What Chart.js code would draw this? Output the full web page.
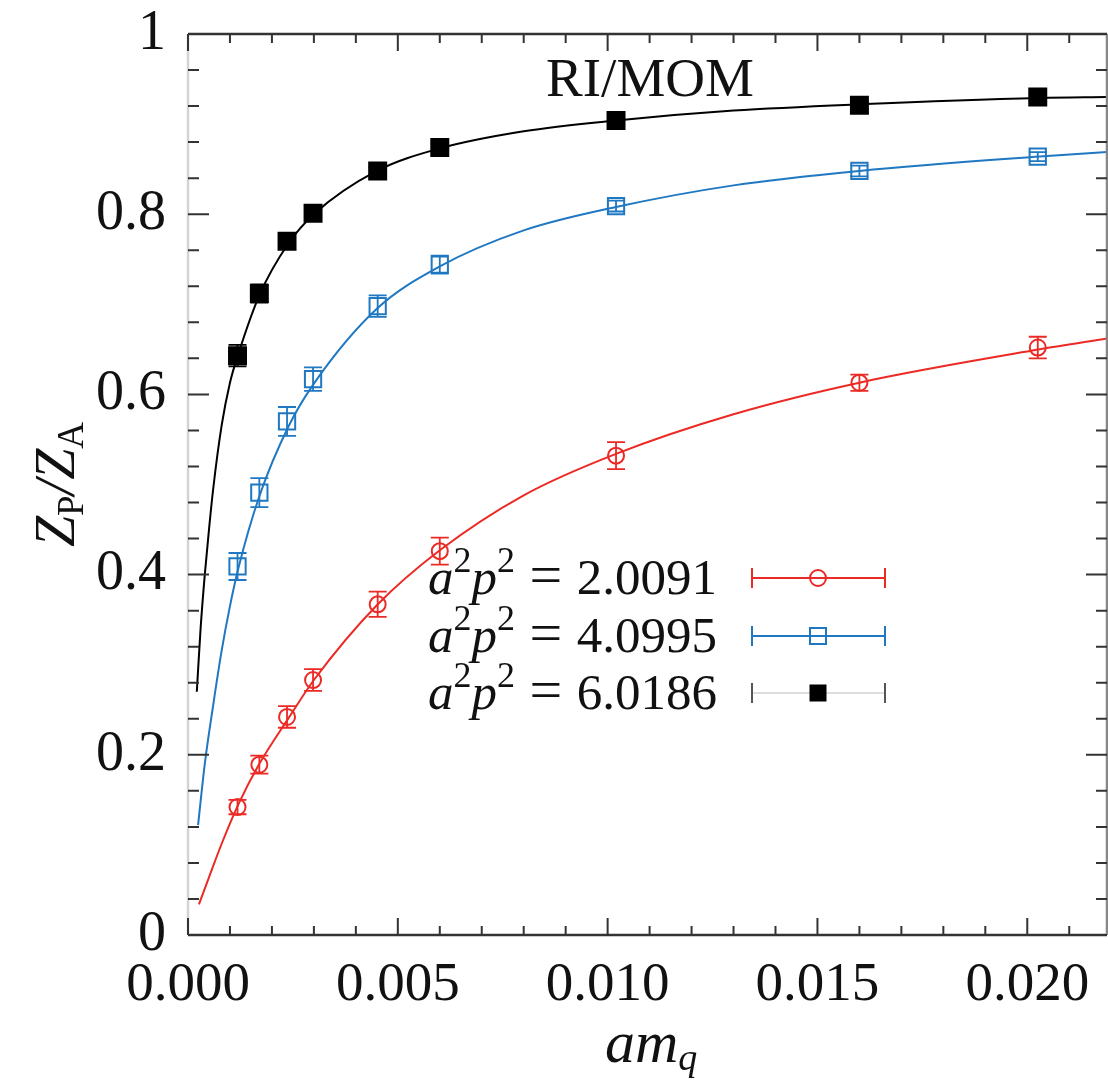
<!DOCTYPE html>
<html>
<head>
<meta charset="utf-8">
<script src="https://cdn.jsdelivr.net/npm/chart.js@4.4.1/dist/chart.umd.min.js"></script>
<style>
  html, body { margin: 0; padding: 0; background: #fff; overflow: hidden; }
  #wrap { width: 1108px; height: 1080px; }
  canvas { display: block; }
</style>
</head>
<body>
<div id="wrap"><canvas id="c" width="1108" height="1080"></canvas></div>
<script>
// ---- data ----
const amq = [0.00118, 0.0017, 0.00236, 0.00298, 0.00452, 0.006, 0.0102, 0.016, 0.02025];

const red = [0.142, 0.189, 0.242, 0.283, 0.367, 0.426, 0.532, 0.613, 0.652];
const redErr = [0.008, 0.010, 0.012, 0.012, 0.014, 0.015, 0.015, 0.009, 0.012];
const blue = [0.409, 0.491, 0.570, 0.617, 0.698, 0.744, 0.809, 0.848, 0.864];
const blueErr = [0.015, 0.016, 0.016, 0.013, 0.012, 0.010, 0.006, 0.006, 0.005];
const black = [0.643, 0.712, 0.770, 0.801, 0.848, 0.874, 0.904, 0.921, 0.930];
const blackErr = [0.012, 0.010, 0.008, 0.006, 0.004, 0.004, 0.004, 0.004, 0.004];

const redFitX = [0.00026, 0.0005, 0.0008, 0.0012, 0.0017, 0.0024, 0.003, 0.0045, 0.006, 0.008, 0.0102, 0.013, 0.016, 0.0203, 0.0219];
const redFitY = [0.034, 0.064, 0.101, 0.145, 0.190, 0.241, 0.283, 0.366, 0.427, 0.488, 0.534, 0.578, 0.613, 0.650, 0.662];
const blueFitX = [0.00024, 0.0004, 0.0006, 0.0008, 0.001, 0.0012, 0.0017, 0.0024, 0.003, 0.0045, 0.006, 0.008, 0.0102, 0.013, 0.016, 0.0203, 0.0219];
const blueFitY = [0.122, 0.190, 0.255, 0.315, 0.365, 0.407, 0.487, 0.565, 0.612, 0.695, 0.742, 0.782, 0.808, 0.832, 0.848, 0.864, 0.869];
const blackFitX = [0.00021, 0.0003, 0.0004, 0.0005, 0.0006, 0.0008, 0.001, 0.0012, 0.0017, 0.0024, 0.003, 0.0045, 0.006, 0.008, 0.0102, 0.013, 0.016, 0.0203, 0.0219];
const blackFitY = [0.270, 0.340, 0.400, 0.450, 0.495, 0.565, 0.613, 0.645, 0.710, 0.768, 0.800, 0.848, 0.873, 0.892, 0.904, 0.915, 0.922, 0.929, 0.930];

const xTicks = [0, 0.005, 0.010, 0.015, 0.020];
const xTickLabels = ['0.000', '0.005', '0.010', '0.015', '0.020'];
const yTicks = [0, 0.2, 0.4, 0.6, 0.8, 1];
const yTickLabels = ['0', '0.2', '0.4', '0.6', '0.8', '1'];

const legendValues = ['2.0091', '4.0995', '6.0186'];
const seriesColors = ['#ec2a25', '#1f78c1', '#000000'];
const plotTitle = 'RI/MOM';

// ---- helpers ----
const pts = (xs, ys) => xs.map((x, i) => ({ x: x, y: ys[i] }));
const SERIF = '"Liberation Serif", "DejaVu Serif", serif';

const errorBars = [
  { ys: red, errs: redErr, color: seriesColors[0] },
  { ys: blue, errs: blueErr, color: seriesColors[1] },
  { ys: black, errs: blackErr, color: seriesColors[2] }
];

const framePlugin = {
  id: 'frame',
  afterDatasetsDraw(chart) {
    const ctx = chart.ctx, xs = chart.scales.x, ys = chart.scales.y;
    ctx.save();
    errorBars.forEach(s => {
      ctx.strokeStyle = s.color;
      ctx.lineWidth = 1.8;
      s.ys.forEach((v, i) => {
        const px = xs.getPixelForValue(amq[i]);
        const top = ys.getPixelForValue(v + s.errs[i]);
        const bot = ys.getPixelForValue(v - s.errs[i]);
        ctx.beginPath();
        ctx.moveTo(px, top); ctx.lineTo(px, bot);
        ctx.moveTo(px - 9, top); ctx.lineTo(px + 9, top);
        ctx.moveTo(px - 9, bot); ctx.lineTo(px + 9, bot);
        ctx.stroke();
      });
    });
    ctx.restore();
  },
  afterDraw(chart) {
    const ctx = chart.ctx, a = chart.chartArea, xs = chart.scales.x, ys = chart.scales.y;
    ctx.save();
    // frame
    ctx.lineWidth = 2.5;
    ctx.strokeStyle = '#333';
    ctx.beginPath(); ctx.moveTo(a.left, a.top); ctx.lineTo(a.right, a.top); ctx.stroke();
    ctx.beginPath(); ctx.moveTo(a.left, a.bottom); ctx.lineTo(a.right, a.bottom); ctx.stroke();
    ctx.strokeStyle = '#888';
    ctx.beginPath(); ctx.moveTo(a.right, a.top); ctx.lineTo(a.right, a.bottom); ctx.stroke();
    ctx.strokeStyle = '#d4d4d4';
    ctx.beginPath(); ctx.moveTo(a.left, a.top); ctx.lineTo(a.left, a.bottom); ctx.stroke();

    // inward ticks
    ctx.strokeStyle = '#333';
    ctx.lineWidth = 2;
    for (let k = 0; k <= 21; k++) {
      const v = k * 0.001;
      const px = xs.getPixelForValue(v);
      const len = (k % 5 === 0) ? 17 : 9;
      ctx.beginPath();
      ctx.moveTo(px, a.bottom); ctx.lineTo(px, a.bottom - len);
      ctx.moveTo(px, a.top); ctx.lineTo(px, a.top + len);
      ctx.stroke();
    }
    for (let k = 0; k <= 25; k++) {
      const v = k * 0.04;
      const py = ys.getPixelForValue(v);
      const len = (k % 5 === 0) ? 21 : 11;
      ctx.beginPath();
      ctx.moveTo(a.left, py); ctx.lineTo(a.left + len, py);
      ctx.moveTo(a.right, py); ctx.lineTo(a.right - len, py);
      ctx.stroke();
    }

    ctx.fillStyle = '#111';
    ctx.textBaseline = 'alphabetic';

    // title inside plot
    ctx.font = '55px ' + SERIF;
    ctx.textAlign = 'center';
    ctx.fillText(plotTitle, 650, 96);

    // x axis title: am_q
    ctx.textAlign = 'left';
    ctx.font = 'italic 60px ' + SERIF;
    const amW = ctx.measureText('am').width;
    const x0 = 605;
    ctx.fillText('am', x0, 1062);
    ctx.font = 'italic 38px ' + SERIF;
    ctx.fillText('q', x0 + amW, 1070);

    // y axis title: Z_P / Z_A (rotated)
    ctx.save();
    ctx.translate(74, (a.top + a.bottom) / 2);
    ctx.rotate(-Math.PI / 2);
    const parts = [
      { t: 'Z', f: 'italic 56px ' + SERIF, dy: 0 },
      { t: 'P', f: '37px ' + SERIF, dy: 9 },
      { t: '/', f: 'italic 56px ' + SERIF, dy: 0 },
      { t: 'Z', f: 'italic 56px ' + SERIF, dy: 0 },
      { t: 'A', f: '37px ' + SERIF, dy: 9 }
    ];
    let tw = 0;
    parts.forEach(p => { ctx.font = p.f; p.w = ctx.measureText(p.t).width; tw += p.w; });
    let px = -tw / 2;
    parts.forEach(p => { ctx.font = p.f; ctx.fillText(p.t, px, p.dy); px += p.w; });
    ctx.restore();

    // legend
    const rowY = [578, 636, 693];
    legendValues.forEach((val, i) => {
      const y = rowY[i];
      const segs = [
        { t: 'a', f: 'italic 51px ' + SERIF, dy: 0 },
        { t: '2', f: '36px ' + SERIF, dy: -22 },
        { t: 'p', f: 'italic 51px ' + SERIF, dy: 0 },
        { t: '2', f: '36px ' + SERIF, dy: -22 },
        { t: ' = ', f: '58px ' + SERIF, dy: 0 },
        { t: val, f: '51px ' + SERIF, dy: 0 }
      ];
      let w = 0;
      segs.forEach(s => { ctx.font = s.f; s.w = ctx.measureText(s.t).width; w += s.w; });
      let lx = 717 - w;
      ctx.fillStyle = '#111';
      segs.forEach(s => { ctx.font = s.f; ctx.fillText(s.t, lx, y + 16 + s.dy); lx += s.w; });

      // symbol
      const c = seriesColors[i];
      ctx.lineWidth = i === 2 ? 1.2 : 2;
      ctx.strokeStyle = i === 2 ? '#bbb' : c;
      ctx.beginPath(); ctx.moveTo(752, y); ctx.lineTo(885, y); ctx.stroke();
      ctx.strokeStyle = i === 2 ? '#555' : c;
      ctx.lineWidth = 2;
      ctx.beginPath();
      ctx.moveTo(752, y - 10); ctx.lineTo(752, y + 10);
      ctx.moveTo(885, y - 10); ctx.lineTo(885, y + 10);
      ctx.stroke();
      const mx = 818;
      if (i === 0) {
        ctx.beginPath(); ctx.arc(mx, y, 8, 0, Math.PI * 2); ctx.stroke();
      } else if (i === 1) {
        ctx.strokeRect(mx - 8, y - 8, 16, 16);
      } else {
        ctx.fillStyle = '#000';
        ctx.fillRect(mx - 8.5, y - 8.5, 17, 17);
      }
    });
    ctx.restore();
  }
};

const fitDs = (xsArr, ysArr, color) => ({
  type: 'line',
  data: pts(xsArr, ysArr),
  borderColor: color,
  borderWidth: 2,
  pointRadius: 0,
  fill: false,
  cubicInterpolationMode: 'monotone',
  order: 2
});
const dataDs = (ys, color, style, r, filled) => ({
  type: 'line',
  data: pts(amq, ys),
  showLine: false,
  borderColor: color,
  pointBorderColor: color,
  pointBackgroundColor: filled ? color : 'rgba(0,0,0,0)',
  pointStyle: style,
  pointRadius: r,
  pointBorderWidth: 2,
  order: 1
});

const zeroPad = s => { s.paddingLeft = 0; s.paddingRight = 0; s.paddingTop = 0; s.paddingBottom = 0; };

new Chart(document.getElementById('c'), {
  type: 'line',
  data: {
    datasets: [
      fitDs(redFitX, redFitY, seriesColors[0]),
      fitDs(blueFitX, blueFitY, seriesColors[1]),
      fitDs(blackFitX, blackFitY, seriesColors[2]),
      dataDs(red, seriesColors[0], 'circle', 8, false),
      dataDs(blue, seriesColors[1], 'rect', 11.5, false),
      dataDs(black, seriesColors[2], 'rect', 12, true)
    ]
  },
  options: {
    responsive: false,
    animation: false,
    events: [],
    layout: { autoPadding: false, padding: { left: 0, top: 34, right: 1, bottom: 0 } },
    plugins: { legend: { display: false }, tooltip: { enabled: false } },
    scales: {
      x: {
        type: 'linear',
        min: 0, max: 0.0219,
        grid: { display: false },
        border: { display: false },
        afterBuildTicks: s => { s.ticks = xTicks.map(v => ({ value: v })); },
        afterFit: s => { s.height = 145; zeroPad(s); },
        ticks: {
          autoSkip: false, maxRotation: 0, padding: 10,
          color: '#111',
          font: { family: SERIF, size: 55 },
          callback: (v) => { const i = xTicks.findIndex(t => Math.abs(t - v) < 1e-9); return i >= 0 ? xTickLabels[i] : ''; }
        }
      },
      y: {
        type: 'linear',
        min: 0, max: 1,
        grid: { display: false },
        border: { display: false },
        afterBuildTicks: s => { s.ticks = yTicks.map(v => ({ value: v })); },
        afterFit: s => { s.width = 188; zeroPad(s); },
        ticks: {
          autoSkip: false, padding: 14,
          color: '#111',
          font: { family: SERIF, size: 56 },
          callback: (v) => { const i = yTicks.findIndex(t => Math.abs(t - v) < 1e-9); return i >= 0 ? yTickLabels[i] : ''; }
        }
      }
    }
  },
  plugins: [framePlugin]
});
</script>
</body>
</html>
